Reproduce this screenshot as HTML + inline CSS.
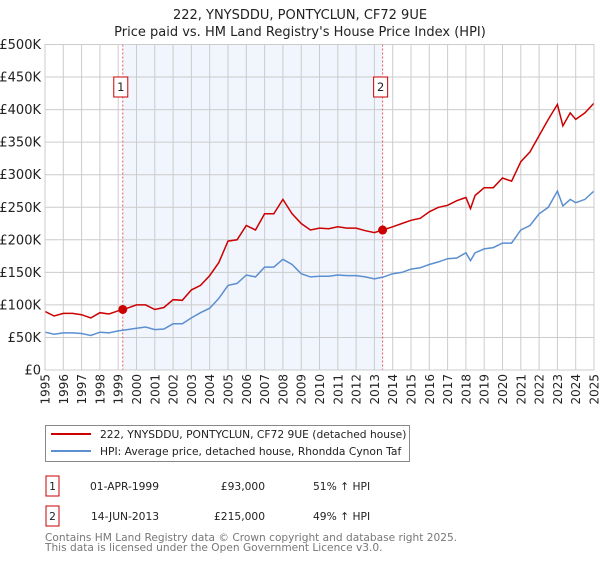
<!DOCTYPE html>
<html><head><meta charset="utf-8"><style>
body{margin:0;background:#fff;font-family:"DejaVu Sans","Liberation Sans",sans-serif;}
svg text{font-family:"DejaVu Sans","Liberation Sans",sans-serif;}
</style></head><body>
<svg id="c" width="600" height="560" xmlns="http://www.w3.org/2000/svg">
<text x="300" y="19" font-size="13" text-anchor="middle" fill="#222">222, YNYSDDU, PONTYCLUN, CF72 9UE</text>
<text x="300" y="36" font-size="13" text-anchor="middle" fill="#222">Price paid vs. HM Land Registry's House Price Index (HPI)</text>
<g id="plot"></g>
<g>
<rect x="45.5" y="425.5" width="364" height="36" fill="#fff" stroke="#888"/>
<line x1="51" y1="434" x2="91" y2="434" stroke="#cc0000" stroke-width="2"/>
<text x="100" y="438" font-size="10.7" fill="#222">222, YNYSDDU, PONTYCLUN, CF72 9UE (detached house)</text>
<line x1="51" y1="451" x2="91" y2="451" stroke="#5b8fd0" stroke-width="2"/>
<text x="100" y="455" font-size="10.7" fill="#222">HPI: Average price, detached house, Rhondda Cynon Taf</text>
</g>
<g font-size="10.7" fill="#222">
<rect x="46" y="476" width="13" height="20" fill="#fff" stroke="#cc0000"/>
<text x="52.5" y="490" text-anchor="middle">1</text>
<text x="90" y="490">01-APR-1999</text>
<text x="265" y="490" text-anchor="end">£93,000</text>
<text x="313" y="490">51% ↑ HPI</text>
<rect x="46" y="506" width="13" height="20" fill="#fff" stroke="#cc0000"/>
<text x="52.5" y="520" text-anchor="middle">2</text>
<text x="91" y="520">14-JUN-2013</text>
<text x="265" y="520" text-anchor="end">£215,000</text>
<text x="313" y="520">49% ↑ HPI</text>
</g>
<text x="45" y="541" font-size="10.6" fill="#777">Contains HM Land Registry data © Crown copyright and database right 2025.</text>
<text x="45" y="551" font-size="10.6" fill="#777">This data is licensed under the Open Government Licence v3.0.</text>
</svg>
<script>
const hpiYears=[1995,1995.5,1996,1996.5,1997,1997.5,1998,1998.5,1999,1999.5,2000,2000.5,2001,2001.5,2002,2002.5,2003,2003.5,2004,2004.5,2005,2005.5,2006,2006.5,2007,2007.5,2008,2008.5,2009,2009.5,2010,2010.5,2011,2011.5,2012,2012.5,2013,2013.5,2014,2014.5,2015,2015.5,2016,2016.5,2017,2017.5,2018,2018.25,2018.5,2019,2019.5,2020,2020.5,2021,2021.5,2022,2022.5,2023,2023.3,2023.7,2024,2024.5,2025];
const hpiValues=[58,55,57,57,56,53,58,57,60,62,64,66,62,63,71,71,80,88,95,110,130,133,146,143,158,158,170,162,148,143,144,144,146,145,145,143,140,143,148,150,155,157,162,166,171,172,180,168,180,186,188,195,195,215,222,240,250,275,252,262,257,262,275];
const priceYears=[1995,1995.5,1996,1996.5,1997,1997.5,1998,1998.5,1999,1999.25,1999.5,2000,2000.5,2001,2001.5,2002,2002.5,2003,2003.5,2004,2004.5,2005,2005.5,2006,2006.5,2007,2007.5,2008,2008.5,2009,2009.5,2010,2010.5,2011,2011.5,2012,2012.5,2013,2013.45,2014,2014.5,2015,2015.5,2016,2016.5,2017,2017.5,2018,2018.25,2018.5,2019,2019.5,2020,2020.5,2021,2021.5,2022,2022.5,2023,2023.3,2023.7,2024,2024.5,2025];
const priceValues=[90,83,87,87,85,80,88,86,91,93,95,100,100,93,96,108,107,123,130,145,165,198,200,222,215,240,240,262,240,225,215,218,217,220,218,218,214,211,215,220,225,230,233,243,250,253,260,265,248,268,280,280,295,290,320,335,360,385,408,375,395,385,395,410];
const saleYears=[1999.25,2013.45];
const saleValues=[93,215];
const yTicks=[0,50,100,150,200,250,300,350,400,450,500];
const xTicks=[1995,1996,1997,1998,1999,2000,2001,2002,2003,2004,2005,2006,2007,2008,2009,2010,2011,2012,2013,2014,2015,2016,2017,2018,2019,2020,2021,2022,2023,2024,2025];
const L=45,R=594,T=44.5,B=370;
const sx=y=>L+(y-1995)/30*(R-L);
const sy=v=>B-v/500*(B-T);
const NS="http://www.w3.org/2000/svg";
const g=document.getElementById('plot');
function mk(t,a){const e=document.createElementNS(NS,t);for(const k in a)e.setAttribute(k,a[k]);g.appendChild(e);return e;}
const sh=mk('rect',{x:sx(saleYears[0]),y:T,width:sx(saleYears[1])-sx(saleYears[0]),height:B-T,fill:'#eef3fc',opacity:0.8});


yTicks.forEach(v=>{
 const l=mk('line',{x1:L,x2:R,y1:sy(v),y2:sy(v),stroke:'#cccccc'});
 
 
 const t=mk('text',{x:L-4,y:sy(v)+4.5,'font-size':13,'text-anchor':'end',fill:'#222'});
 t.textContent='£'+(v===0?'0':v+'K');
 
 
});
xTicks.forEach(y=>{
 const l=mk('line',{x1:sx(y),x2:sx(y),y1:T,y2:B,stroke:'#cccccc'});
 
 
 const t=mk('text',{x:0,y:0,'font-size':12,'text-anchor':'end',fill:'#222',transform:`translate(${sx(y)+4.5},374) rotate(-90)`});
 t.textContent=y;
 
 
});
saleYears.forEach((y,i)=>{
 const l=mk('line',{x1:sx(y),x2:sx(y),y1:T,y2:B,stroke:'#ee5555','stroke-dasharray':'2,2'});
 
 
});
const pts=(xs,vs)=>xs.map((y,i)=>sx(y).toFixed(1)+','+sy(vs[i]).toFixed(1)).join(' ');
const hl=mk('polyline',{points:pts(hpiYears,hpiValues),fill:'none',stroke:'#5b8fd0','stroke-width':1.5});


const pl=mk('polyline',{points:pts(priceYears,priceValues),fill:'none',stroke:'#cc0000','stroke-width':1.5});


saleYears.forEach((y,i)=>{
 const c=mk('circle',{cx:sx(y),cy:sy(saleValues[i]),r:4.5,fill:'#cc0000'});
 
 
 const bx=sx(y)-9;
 const r=mk('rect',{x:bx,y:77,width:14,height:20,fill:'#fff',stroke:'#cc0000'});
 
 
 const t=mk('text',{x:bx+7,y:91,'font-size':11.5,'text-anchor':'middle',fill:'#222'});
 t.textContent=String(i+1);
 
 
});
mk('rect',{x:L,y:T,width:R-L,height:B-T,fill:'none',stroke:'#cccccc'});
</script>
</body></html>
